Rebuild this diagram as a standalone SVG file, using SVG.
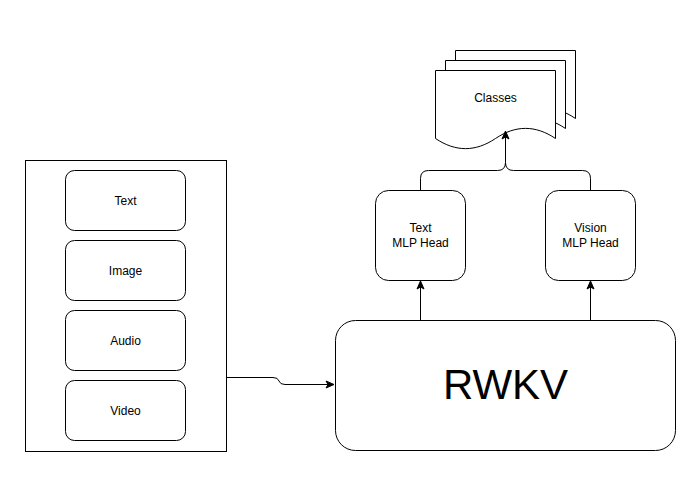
<svg xmlns="http://www.w3.org/2000/svg" width="700" height="500" viewBox="0 0 700 500">
<defs>
<marker id="arr" markerWidth="10" markerHeight="10" refX="8" refY="5" orient="auto" markerUnits="userSpaceOnUse">
<path d="M1,1.5 L9,5 L1,8.5 L3,5 Z" fill="#000" stroke="#000" stroke-width="1"/>
</marker>
</defs>
<style>
.box{fill:#fff;stroke:#000;stroke-width:1}
.lbl{font-family:"Liberation Sans",Arial,sans-serif;font-size:12px;fill:#000;text-anchor:middle}
.edge{fill:none;stroke:#000;stroke-width:1}
</style>
<rect width="700" height="500" fill="#fff"/>
<g id="inputs">
<rect class="box" x="25.5" y="160.5" width="201" height="291"/>
</g>
<g id="text">
<rect class="box" x="65.5" y="170.5" width="120" height="60" rx="9"/>
<text class="lbl" x="125.5" y="204.5">Text</text>
</g>
<g id="image">
<rect class="box" x="65.5" y="240.5" width="120" height="60" rx="9"/>
<text class="lbl" x="125.5" y="274.5">Image</text>
</g>
<g id="audio">
<rect class="box" x="65.5" y="310.5" width="120" height="60" rx="9"/>
<text class="lbl" x="125.5" y="344.5">Audio</text>
</g>
<g id="video">
<rect class="box" x="65.5" y="380.5" width="120" height="60" rx="9"/>
<text class="lbl" x="125.5" y="414.5">Video</text>
</g>
<g id="rwkv">
<rect class="box" x="335.5" y="320.5" width="340" height="130" rx="20"/>
<text x="505.5" y="399" font-family="Liberation Sans,Arial,sans-serif" font-size="42" text-anchor="middle" fill="#000">RWKV</text>
</g>
<g id="text-head">
<rect class="box" x="375.5" y="190.5" width="90" height="90" rx="13"/>
<text class="lbl" x="420.5" y="232">Text</text>
<text class="lbl" x="420.5" y="247">MLP Head</text>
</g>
<g id="vision-head">
<rect class="box" x="545.5" y="190.5" width="90" height="90" rx="13"/>
<text class="lbl" x="590.5" y="232">Vision</text>
<text class="lbl" x="590.5" y="247">MLP Head</text>
</g>
<g id="classes">
<path class="box" d="M455.5,50.5 H575.5 V118.5 C555.5,105 535.5,105 515.5,118.5 C495.5,132 475.5,132 455.5,118.5 Z"/>
<path class="box" d="M445.5,60.5 H565.5 V128.5 C545.5,115 525.5,115 505.5,128.5 C485.5,142 465.5,142 445.5,128.5 Z"/>
<path class="box" d="M435.5,70.5 H555.5 V138.5 C535.5,125 515.5,125 495.5,138.5 C475.5,152 455.5,152 435.5,138.5 Z"/>
<text class="lbl" x="495.5" y="102">Classes</text>
</g>
<g id="connectors">
<path class="edge" d="M226.5,377.5 H273 Q278,377.5 279,381 Q280,384.5 285,384.5 H333" marker-end="url(#arr)"/>
<path class="edge" d="M420.5,320.5 V282" marker-end="url(#arr)"/>
<path class="edge" d="M590.5,320.5 V282" marker-end="url(#arr)"/>
<path class="edge" d="M420.5,190.5 V178.5 Q420.5,170.5 428.5,170.5 H497.5 Q505.5,170.5 505.5,162.5 V132" marker-end="url(#arr)"/>
<path class="edge" d="M590.5,190.5 V178.5 Q590.5,170.5 582.5,170.5 H513.5 Q505.5,170.5 505.5,162.5"/>
</g>
</svg>
